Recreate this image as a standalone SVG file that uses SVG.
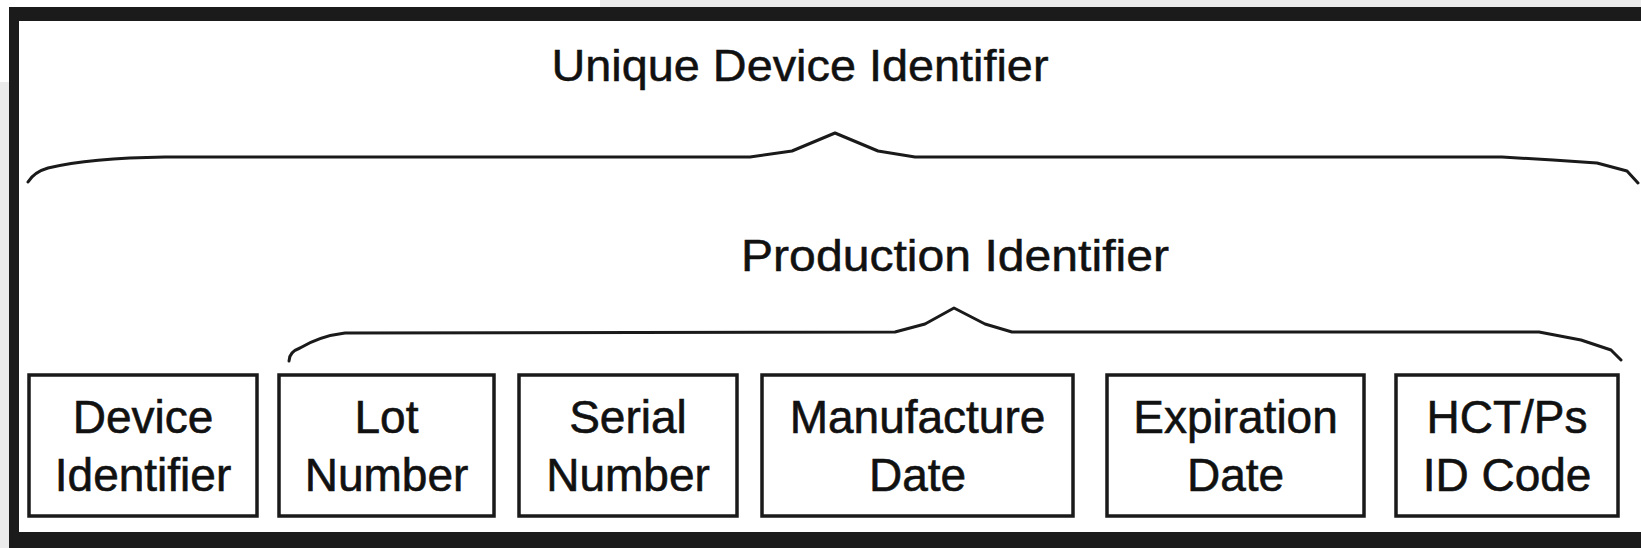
<svg xmlns="http://www.w3.org/2000/svg" width="1641" height="548" viewBox="0 0 1641 548">
  <defs>
    <style>
      .lbl { font-family: "Liberation Sans", Arial, sans-serif; font-size: 46px; fill: #111; stroke: #111; stroke-width: 0.6; text-anchor: middle; }
      .hdr { font-family: "Liberation Sans", Arial, sans-serif; font-size: 44px; fill: #111; stroke: #111; stroke-width: 0.5; text-anchor: middle; }
      .box { fill: #fff; stroke: #1a1a1a; stroke-width: 3.5; }
      .brace { fill: none; stroke: #1a1a1a; stroke-width: 3; stroke-linejoin: round; stroke-linecap: round; }
    </style>
  </defs>
  <rect x="0" y="0" width="1641" height="548" fill="#ebebeb"/>
  <rect x="0" y="0" width="600" height="7" fill="#ffffff"/>
  <rect x="0" y="0" width="9" height="82" fill="#ffffff"/>
  <rect x="9" y="7" width="1632" height="541" fill="#1b1b1b"/>
  <rect x="19" y="21" width="1622" height="511" fill="#ffffff"/>

  <g id="title-udi">
    <text class="hdr" x="800" y="81" textLength="497" lengthAdjust="spacingAndGlyphs">Unique Device Identifier</text>
  </g>
  <g id="title-pi">
    <text class="hdr" x="955" y="271" textLength="428" lengthAdjust="spacingAndGlyphs">Production Identifier</text>
  </g>

  <g id="connectors">
    <path class="brace" d="M28,182 Q34,172 48,168 Q90,158 165,157 L750,157 L792,151 L835,133 L878,151 L915,157 L1502,157 L1553,160 L1597,163 L1627,171 L1638,183"/>
    <path class="brace" d="M289,361 Q289,352 300,348 Q320,336 345,333 L895,332 L925,324 L954,308 L985,324 L1012,332 L1539,332 L1581,340 L1611,350 L1621,360"/>
  </g>

  <g id="node-device-identifier">
    <rect class="box" x="29" y="375" width="228" height="141"/>
    <text class="lbl" x="143" y="433">Device</text>
    <text class="lbl" x="143" y="491">Identifier</text>
  </g>
  <g id="node-lot-number">
    <rect class="box" x="279" y="375" width="215" height="141"/>
    <text class="lbl" x="386.5" y="433">Lot</text>
    <text class="lbl" x="386.5" y="491">Number</text>
  </g>
  <g id="node-serial-number">
    <rect class="box" x="519" y="375" width="218" height="141"/>
    <text class="lbl" x="628" y="433">Serial</text>
    <text class="lbl" x="628" y="491">Number</text>
  </g>
  <g id="node-manufacture-date">
    <rect class="box" x="762" y="375" width="311" height="141"/>
    <text class="lbl" x="917.5" y="433">Manufacture</text>
    <text class="lbl" x="917.5" y="491">Date</text>
  </g>
  <g id="node-expiration-date">
    <rect class="box" x="1107" y="375" width="257" height="141"/>
    <text class="lbl" x="1235.5" y="433">Expiration</text>
    <text class="lbl" x="1235.5" y="491">Date</text>
  </g>
  <g id="node-hctps-id-code">
    <rect class="box" x="1396" y="375" width="222" height="141"/>
    <text class="lbl" x="1507" y="433">HCT/Ps</text>
    <text class="lbl" x="1507" y="491">ID Code</text>
  </g>
</svg>
